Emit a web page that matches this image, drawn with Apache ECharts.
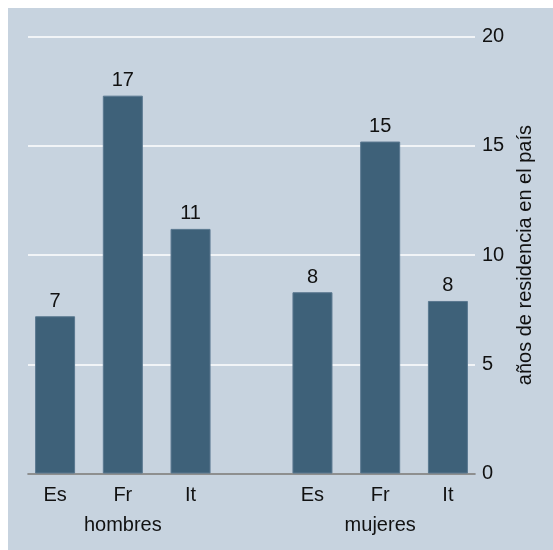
<!DOCTYPE html>
<html>
<head>
<meta charset="utf-8">
<script src="https://cdn.jsdelivr.net/npm/echarts@6/dist/echarts.min.js"></script>
<style>
html,body{margin:0;padding:0;background:#ffffff;width:553px;height:550px;overflow:hidden;}
#chart{position:absolute;left:8px;top:8px;width:545px;height:542px;background:#c7d3df;}
</style>
</head>
<body>
<div id="chart"></div>
<script>
// Data
var categories = ['Es', 'Fr', 'It'];
var groups = ['hombres', 'mujeres'];
var hombres = [7.2, 17.3, 11.2];
var mujeres = [8.3, 15.2, 7.9];
var yTicks = [0, 5, 10, 15, 20];
var yTitle = 'años de residencia en el país';

// Layout helpers (positions computed, not data)
var groupShift = 3.8;
function pos(g, i) { return Math.round((1 + i + g * groupShift) * 10) / 10; }
var seriesVals = [hombres, mujeres];
var barData = [];
var tickMap = {};
var groupMap = {};
seriesVals.forEach(function (vals, g) {
  vals.forEach(function (v, i) {
    var x = pos(g, i);
    barData.push([x, v]);
    tickMap[Math.round(x * 10)] = categories[i];
  });
  groupMap[Math.round(pos(g, 1) * 10)] = groups[g];
});

var font = 'Liberation Sans, Arial, Helvetica, sans-serif';
var fs = 20;
var chart = echarts.init(document.getElementById('chart'));
var xBase = {
  type: 'value', min: 0.6, max: 7.2, interval: 0.2,
  splitLine: { show: false }, axisTick: { show: false }
};
chart.setOption({
  backgroundColor: 'transparent',
  animation: false,
  grid: { left: 20, right: 78, top: 28.7, bottom: 76.5 },
  xAxis: [
    Object.assign({}, xBase, {
      position: 'bottom',
      axisLine: { show: true, lineStyle: { color: '#6e6e6e', width: 1.5 } },
      axisLabel: {
        show: true, margin: 12, fontSize: fs, fontFamily: font, color: '#111',
        showMinLabel: true, showMaxLabel: true, hideOverlap: false,
        formatter: function (v) { return tickMap[Math.round(v * 10)] || ''; }
      }
    }),
    Object.assign({}, xBase, {
      position: 'bottom', offset: 30,
      axisLine: { show: false },
      axisLabel: {
        show: true, margin: 12, fontSize: fs, fontFamily: font, color: '#111',
        showMinLabel: true, showMaxLabel: true, hideOverlap: false,
        formatter: function (v) { return groupMap[Math.round(v * 10)] || ''; }
      }
    })
  ],
  yAxis: {
    type: 'value', position: 'right', min: yTicks[0], max: yTicks[yTicks.length - 1], interval: 5,
    axisLine: { show: false },
    axisTick: { show: false },
    splitLine: { show: true, lineStyle: { color: '#ffffff', width: 1.5 } },
    axisLabel: { margin: 7, fontSize: fs, fontFamily: font, color: '#111' },
    name: yTitle, nameLocation: 'middle', nameRotate: 90, nameGap: 40,
    nameTextStyle: { fontSize: fs, fontFamily: font, color: '#111' }
  },
  series: [{
    type: 'bar',
    xAxisIndex: 0,
    data: barData,
    barWidth: 40,
    itemStyle: { color: '#3e6179', borderColor: '#5a7890', borderWidth: 1 },
    label: {
      show: true, position: 'top', distance: 5,
      fontSize: fs, fontFamily: font, color: '#111',
      formatter: function (p) { return Math.round(p.value[1]); }
    }
  }]
});
</script>
</body>
</html>
